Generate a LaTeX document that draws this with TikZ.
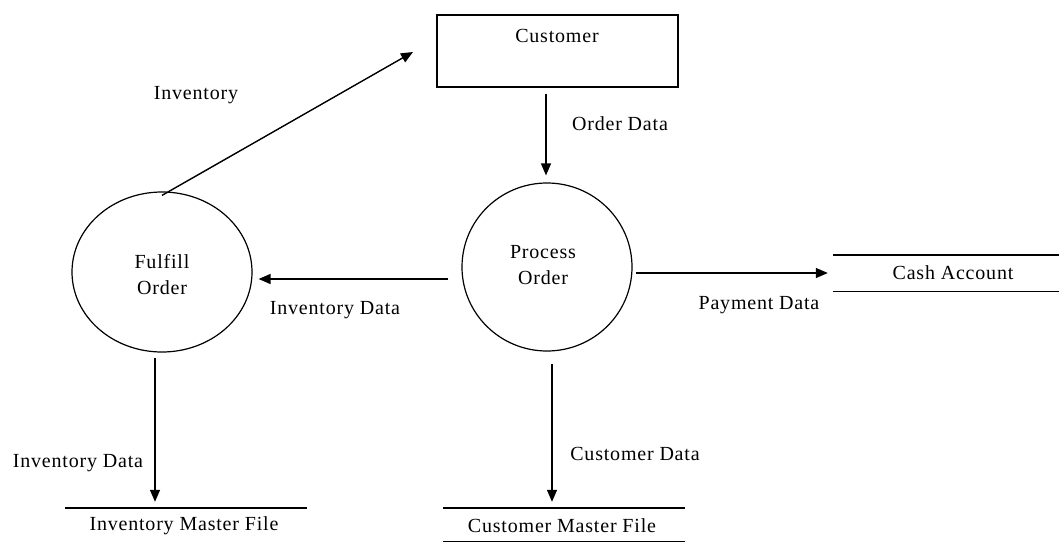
\documentclass[tikz,border=0pt]{standalone}
\usepackage{fontspec}
\setmainfont{Liberation Serif}[LetterSpace=4]
\usetikzlibrary{arrows.meta,shapes.geometric}
\begin{document}
\begin{tikzpicture}[x=1pt,y=-1pt,
  every node/.style={font=\fontsize{20}{24}\selectfont, inner sep=0pt},
  ln/.style={line width=1.4pt, draw=black},
  arr/.style={ln, -{Triangle[length=12pt,width=10pt]}},
  entity/.style={draw, line width=1.4pt, minimum width=241pt, minimum height=72pt},
  proc/.style={draw, line width=1.2pt, ellipse},
  lbl/.style={}
]
\useasboundingbox (0,0) rectangle (1061,544);
% entity
\node[entity] (cust) at (557.5,51) {};
\node[lbl] (custtxt) at (557,36) {Customer};
% processes
\node[proc, minimum width=180pt, minimum height=160pt] (ful) at (162,272) {};
\node[lbl, align=center] (fultxt) at (162,275) {Fulfill\\[2pt]Order};
\node[proc, minimum width=170pt, minimum height=168pt] (prc) at (547,267) {};
\node[lbl, align=center] (prctxt) at (543,265) {Process\\[2pt]Order};
% stores
\node[minimum width=226pt, minimum height=36pt] (cash) at (946,273) {};
\node[lbl] (cashtxt) at (953,273) {Cash Account};
\draw[ln] (cash.north west) -- (cash.north east);
\draw[ln] (cash.south west) -- (cash.south east);
\node[minimum width=242pt, minimum height=34pt] (imf) at (186,525) {};
\node[lbl] (imftxt) at (184,526) {Inventory Master File};
\draw[ln] (imf.north west) -- (imf.north east);
\node[minimum width=242pt, minimum height=33pt] (cmf) at (564,524.5) {};
\node[lbl] (cmftxt) at (562,526) {Customer Master File};
\draw[ln] (cmf.north west) -- (cmf.north east);
\draw[ln] (cmf.south west) -- (cmf.south east);
% helper coordinates
\coordinate (invtip) at (413,52);
\coordinate (yinv) at (0,279);
\coordinate (ypay) at (0,273);
\coordinate (xod) at (546,0);
\coordinate (xid) at (155,0);
\coordinate (xcd) at (552,0);
% flows
\draw[arr, shorten <=6pt, shorten >=7pt] (xod |- cust.south) -- (xod |- prc.north);
\draw[arr, shorten <=13pt, shorten >=6pt] (prc.west |- yinv) -- (ful.east |- yinv);
\draw[arr, shorten <=3pt, shorten >=5pt] (prc.east |- ypay) -- (cash.west |- ypay);
\draw[arr] ([yshift=-4pt]ful.north) -- (invtip);
\draw[arr, shorten <=5pt, shorten >=6pt] (xid |- ful.south) -- (xid |- imf.north);
\draw[arr, shorten <=12pt, shorten >=6pt] (xcd |- prc.south) -- (xcd |- cmf.north);
% labels
\node[lbl] (l1) at (196,95) {Inventory};
\node[lbl] (l2) at (620,124) {Order Data};
\node[lbl] (l3) at (335,310) {Inventory Data};
\node[lbl] (l4) at (759,305) {Payment Data};
\node[lbl] (l5) at (78,463) {Inventory Data};
\node[lbl] (l6) at (635,454) {Customer Data};
\end{tikzpicture}
\end{document}
